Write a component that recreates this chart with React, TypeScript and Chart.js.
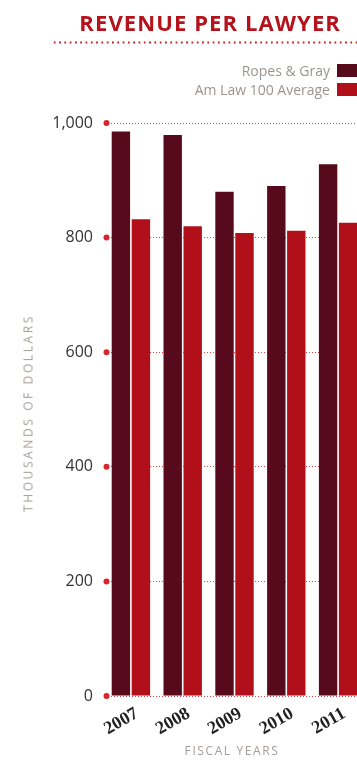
import React, { useEffect, useRef } from "react";
import { Chart, registerables } from "chart.js";

Chart.register(...registerables);

const years = ["2007", "2008", "2009", "2010", "2011"];
const ropesGray = [985, 979, 880, 890, 928];
const amLawAvg = [832, 820, 808, 812, 826];
const yTicks = [0, 200, 400, 600, 800, 1000];

const DARK = "#560a1c";
const RED = "#b1101a";
const DOT_RED = "#d6262f";

const tickDots = {
  id: "tickDots",
  afterDraw(chart: any) {
    const ctx = chart.ctx;
    const ys = chart.scales.y;
    ctx.save();
    ctx.fillStyle = DOT_RED;
    ys.ticks.forEach((t: any) => {
      const py = ys.getPixelForValue(t.value);
      ctx.beginPath();
      ctx.arc(chart.chartArea.left + 1.5, py, 3, 0, Math.PI * 2);
      ctx.fill();
    });
    ctx.restore();
  },
};

export default function App() {
  const ref = useRef<HTMLCanvasElement | null>(null);
  useEffect(() => {
    if (!ref.current) return;
    const chart = new Chart(ref.current, {
      type: "bar",
      data: {
        labels: years,
        datasets: [
          {
            label: "Ropes & Gray",
            data: ropesGray,
            backgroundColor: DARK,
            borderWidth: 0,
            categoryPercentage: 0.772,
            barPercentage: 0.92,
          },
          {
            label: "Am Law 100 Average",
            data: amLawAvg,
            backgroundColor: RED,
            borderWidth: 0,
            categoryPercentage: 0.772,
            barPercentage: 0.92,
          },
        ],
      },
      options: {
        responsive: false,
        animation: false,
        devicePixelRatio: 1,
        layout: { padding: { top: 123, left: 0, right: 0, bottom: 0 } },
        plugins: {
          legend: { display: false },
          title: { display: false },
          tooltip: { enabled: false },
        },
        scales: {
          x: {
            grid: { display: false, drawTicks: false },
            border: { display: false },
            ticks: {
              maxRotation: 30,
              minRotation: 30,
              padding: 7,
              labelOffset: 6,
              color: "#222",
              font: { family: "'Liberation Serif', 'DejaVu Serif', serif", size: 18, weight: "bold" },
            },
            afterFit: (s: any) => {
              s.height = 65;
              s.paddingLeft = 0;
              s.paddingRight = 0;
            },
          },
          y: {
            min: 0,
            max: 1000,
            afterBuildTicks: (s: any) => {
              s.ticks = yTicks.map((v) => ({ value: v }));
            },
            grid: { color: "#e0454c", lineWidth: 1, drawTicks: false },
            border: { display: false, dash: [1, 2] },
            ticks: {
              padding: 12,
              color: "#333",
              font: { family: "'Open Sans', sans-serif", size: 16 },
              callback: (v: any) => Number(v).toLocaleString("en-US"),
            },
            afterFit: (s: any) => {
              s.width = 105;
              s.paddingTop = 0;
              s.paddingBottom = 0;
            },
          },
        },
      },
      plugins: [tickDots],
    } as any);
    return () => chart.destroy();
  }, []);

  const sans = "'Open Sans', sans-serif";
  return (
    <div
      style={{
        position: "fixed",
        left: 0,
        top: 0,
        width: 357,
        height: 761,
        overflow: "hidden",
        background: "#fff",
        fontFamily: sans,
      }}
    >
      <canvas ref={ref} width={364} height={761} style={{ position: "absolute", left: 0, top: 0 }} />
      <div
        style={{
          position: "absolute",
          right: 16,
          top: 7,
          fontSize: 22,
          fontWeight: 700,
          letterSpacing: 1.1,
          color: "#b5121b",
          whiteSpace: "nowrap",
        }}
      >
        REVENUE PER LAWYER
      </div>
      <div
        style={{
          position: "absolute",
          left: 52,
          top: 41,
          width: 320,
          height: 3,
          backgroundImage: "radial-gradient(circle, #c9202a 0.9px, transparent 1.3px)",
          backgroundSize: "5.3px 3px",
        }}
      />
      {[
        { label: "Ropes & Gray", color: DARK, top: 61 },
        { label: "Am Law 100 Average", color: RED, top: 80 },
      ].map((l) => (
        <div key={l.label} style={{ position: "absolute", right: 0, top: l.top, display: "flex", alignItems: "center" }}>
          <span style={{ fontSize: 14, color: "#9b9591", whiteSpace: "nowrap" }}>{l.label}</span>
          <span style={{ display: "inline-block", width: 20, height: 13, background: l.color, marginLeft: 7 }} />
        </div>
      ))}
      <div
        style={{
          position: "absolute",
          left: 28,
          top: 413,
          transform: "translate(-50%, -50%) rotate(-90deg)",
          fontSize: 12,
          letterSpacing: 2.6,
          color: "#a39d99",
          whiteSpace: "nowrap",
        }}
      >
        THOUSANDS OF DOLLARS
      </div>
      <div
        style={{
          position: "absolute",
          left: 232,
          top: 750,
          transform: "translate(-50%, -50%)",
          fontSize: 12,
          letterSpacing: 1.6,
          color: "#a39d99",
          whiteSpace: "nowrap",
        }}
      >
        FISCAL YEARS
      </div>
    </div>
  );
}
